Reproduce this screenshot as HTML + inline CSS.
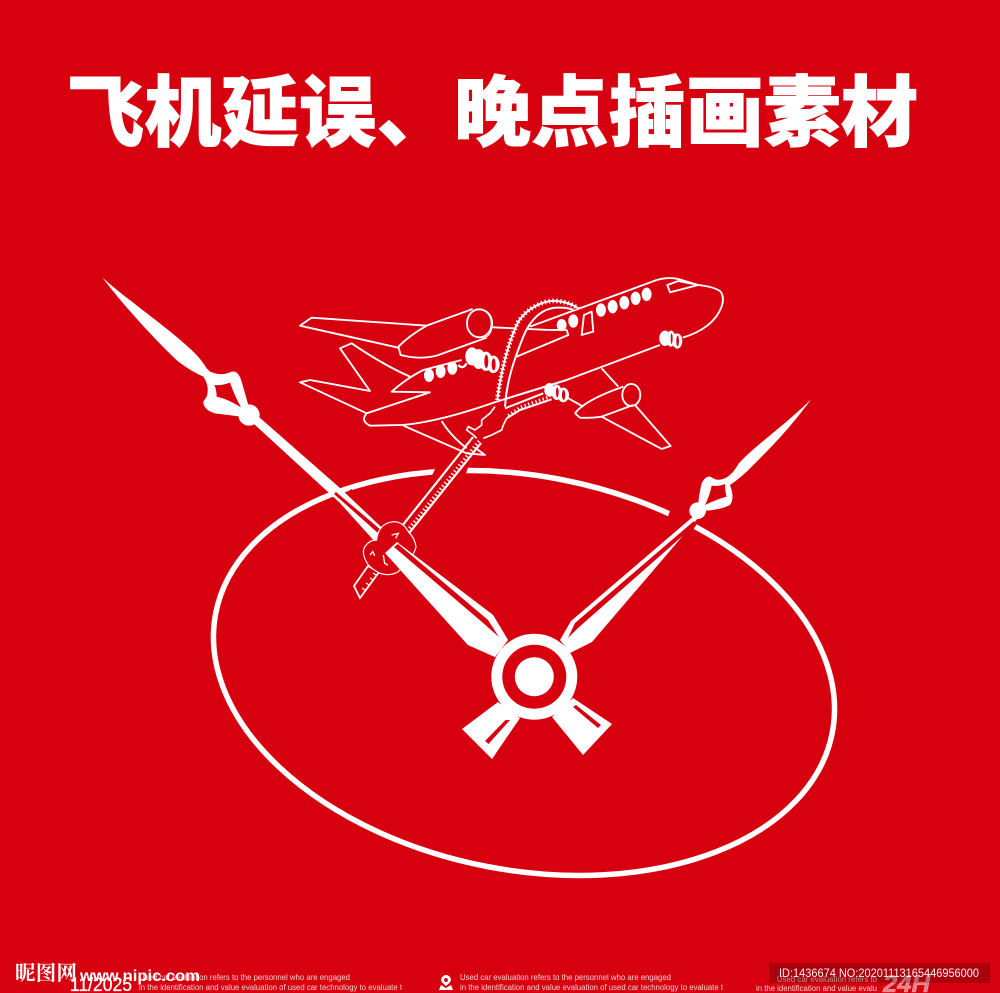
<!DOCTYPE html>
<html lang="zh"><head><meta charset="utf-8"><title>飞机延误、晚点插画素材</title>
<style>html,body{margin:0;padding:0;background:#d7000f}svg{display:block}</style></head>
<body>
<svg xmlns="http://www.w3.org/2000/svg" width="1000" height="993" viewBox="0 0 1000 993">
<rect width="1000" height="993" fill="#d7000f"/>
<text x="67" y="140" font-family="'Liberation Sans','Noto Sans CJK SC',sans-serif" font-weight="900" font-size="77" fill="#fff" stroke="#fff" stroke-width="1" textLength="851" lengthAdjust="spacing">飞机延误、晚点插画素材</text>

<!-- dial ellipse -->
<ellipse cx="524" cy="673" rx="314" ry="197" transform="rotate(11 524 673)" fill="none" stroke="#fff" stroke-width="5.500"/>
<polygon points="322,505 352,489 362,530 335,540" fill="#d7000f"/>
<polygon points="437,465 469,465 460,490 425,490" fill="#d7000f"/>
<polygon points="672,505 704,512 690,535 666,522" fill="#d7000f"/>

<!-- left hand head -->
<g transform="translate(95 270) scale(.3333)" fill="#fff">
<path fill-rule="evenodd" d="M22 22C90 85 230 180 300 250Q320 270 335 295L345 305Q380 320 410 305Q430 300 440 335L460 405L480 435L440 440Q400 435 360 430Q325 420 325 395L335 380Q345 350 325 320Q290 305 250 275C180 210 80 100 22 22ZM358 345Q365 360 365 380Q400 388 438 412Q420 380 405 338Q380 348 358 345Z"/>
<circle cx="462" cy="435" r="32"/>
</g>
<!-- right hand head -->
<g transform="translate(670 390) scale(.3333)" fill="#fff">
<path fill-rule="evenodd" d="M423 28C340 110 250 170 205 222Q190 250 170 262Q145 275 130 265Q110 250 95 280Q85 320 85 345L90 365L105 362Q150 360 180 345Q195 325 180 285Q215 262 250 225C300 175 360 115 423 28ZM125 287Q120 315 105 345Q140 328 170 320Q165 305 165 282Q145 290 125 287Z"/>
<circle cx="83" cy="362" r="25"/>
</g>

<!-- left hand shaft -->
<polygon points="259,417 340,488 397,542 493,615 508,640 495,657 468,645 385,553 340,503 254,424" fill="#fff"/>
<polygon points="336,492 400,546 488,620 499,637 482,622 396,549 334,494" fill="#d7000f"/>
<!-- right hand shaft -->
<polygon points="696,514 571,621 560,640 570,653 592,642 698,518" fill="#fff"/>
<polygon points="694,521 575,623 568,638 578,628 695,525" fill="#d7000f"/>

<!-- straight rope down to hand -->
<polygon points="473,437 398,531 406,537 481,443" fill="#d7000f"/>
<path d="M473 437L398 531M481 443L406 537" stroke="#fff" stroke-width="2.200" fill="none"/>
<path d="M479 441L404 535" stroke="#fff" stroke-width="3.500" stroke-dasharray="1.300 2.500" fill="none"/>

<!-- rope tail -->
<path d="M368 566L354 586L360 598L379 572Z" fill="#d7000f" stroke="#fff" stroke-width="1.800"/>
<path d="M365 590l-3-2M369 585l-3-2M373 580l-3-2M376 575l-3-2" stroke="#fff" stroke-width="1.300"/>

<!-- knot on hand -->
<g transform="translate(340 440) scale(.3333)">
<path d="M110 300Q115 250 160 245Q190 245 205 275Q225 295 228 320Q225 340 205 360L175 395Q150 410 120 400Q100 390 85 375Q65 345 72 325Q85 300 110 300Z" fill="#d7000f" stroke="#fff" stroke-width="3.500"/>
<path d="M90 345l8-10l6 12M130 345l4 25l10 5M155 285l20-5l-8 15" fill="none" stroke="#fff" stroke-width="4"/>
</g>
<polygon points="385,553 397,542 493,615 508,640 495,657 468,645" fill="#fff"/>
<polygon points="398,544 488,620 499,637 482,622 394,547" fill="#d7000f"/>

<!-- clock hub -->
<circle cx="534.300" cy="676.700" r="43" fill="#fff"/>
<circle cx="534.300" cy="676.700" r="32" fill="#d7000f"/>
<circle cx="534.300" cy="676.700" r="19.500" fill="#fff"/>
<!-- tails -->
<polygon points="498,702 462,729 492,759 520,718" fill="#fff"/>
<polygon points="485,741 488.500,744 510,720 505.500,720" fill="#d7000f"/>
<polygon points="573,698 612,724 583,755 552,717" fill="#fff"/>
<polygon points="573,707 576,705 601,725 598,728" fill="#d7000f"/>

<!-- aeroplane -->
<g transform="translate(290 265) scale(.3333)" fill="none" stroke="#fff" stroke-width="5.600" stroke-linejoin="round">
<path d="M410 182L65 158L30 182L325 248"/>
<path d="M410 182L548 132M325 245Q360 210 410 182M325 245L332 270Q390 285 440 272L590 218"/>
<ellipse cx="568" cy="175" rx="37" ry="42"/>
<path d="M555 133Q605 130 608 175Q605 215 580 219" stroke-width="3"/>
<path d="M608 187L775 195"/>
<path d="M720 185L1100 45Q1135 35 1165 42L1225 60Q1270 65 1290 78Q1305 95 1295 125Q1270 190 1178 218"/>
<path d="M1110 240L830 345L620 410Q450 470 340 480L240 482Q215 470 225 452L230 445L420 382L305 380Q350 340 400 315L515 285"/>
<path d="M680 275L835 210L830 195L775 195"/>
<path d="M360 335Q280 300 185 235L150 250L240 378L60 345L30 352L230 445"/>
<path d="M1225 60L1140 82L1132 60L1165 48Z"/>
<path d="M875 210L882 150L905 140L910 200Z"/>
<path d="M935 310L985 365M855 445Q885 405 1000 365M855 445L870 458Q905 460 935 455L1030 420"/>
<ellipse cx="1024" cy="390" rx="27" ry="33"/>
<path d="M935 455L1115 552L1142 543L1035 420M835 400L880 425"/>
<path d="M340 482L530 565L585 570L555 548M455 468Q480 510 530 550"/>
<g fill="#fff" stroke="none">
<ellipse cx="417" cy="331" rx="15" ry="20"/><ellipse cx="452" cy="319" rx="15" ry="20"/><ellipse cx="487" cy="309" rx="15" ry="20"/>
<ellipse cx="815" cy="180" rx="15" ry="18"/><ellipse cx="850" cy="168" rx="15" ry="20"/>
<ellipse cx="933" cy="135" rx="15" ry="20"/><ellipse cx="968" cy="125" rx="15" ry="20"/><ellipse cx="1003" cy="113" rx="15" ry="20"/><ellipse cx="1037" cy="100" rx="15" ry="20"/><ellipse cx="1070" cy="88" rx="15" ry="20"/>
</g>
<path d="M505 300Q518 315 530 295" stroke-width="7"/>
<g fill="#fff" stroke="none">
<ellipse cx="610" cy="298" rx="19" ry="26"/><ellipse cx="588" cy="289" rx="19" ry="29"/><ellipse cx="566" cy="282" rx="20" ry="30"/>
<ellipse cx="820" cy="390" rx="17" ry="22"/><ellipse cx="800" cy="382" rx="15" ry="23"/>
<ellipse cx="1162" cy="228" rx="15" ry="23"/><ellipse cx="1143" cy="221" rx="14" ry="24"/>
</g>
<g fill="#d7000f" stroke="none">
<ellipse cx="611" cy="298" rx="6" ry="18"/><ellipse cx="589" cy="289" rx="6" ry="20"/>
<ellipse cx="821" cy="390" rx="5" ry="15"/><ellipse cx="802" cy="382" rx="4" ry="15"/>
<ellipse cx="1163" cy="228" rx="4" ry="16"/><ellipse cx="1145" cy="221" rx="3" ry="16"/>
</g>
<g fill="#fff" stroke="none">
<ellipse cx="546" cy="274" rx="20" ry="27"/><ellipse cx="778" cy="375" rx="15" ry="21"/><ellipse cx="1125" cy="220" rx="17" ry="23"/>
</g>

<!-- hose up over the fuselage -->
<path d="M622 405C630 340 650 240 685 170C710 130 760 105 800 108C830 110 850 120 865 130L850 135C840 130 820 127 800 128C755 130 720 165 700 215C670 290 650 350 645 425Z" fill="#d7000f" stroke="none"/>
<path d="M622 405C630 340 650 240 685 170C710 130 760 105 800 108C830 110 850 120 865 130" stroke-width="6"/>
<path d="M622 405C630 340 650 240 685 170C710 130 760 105 800 108C830 110 850 120 865 130" stroke-width="14" stroke-dasharray="4 7.500"/>
<path d="M645 425C650 350 670 290 700 215C720 165 755 130 800 128C820 127 840 130 850 135" stroke-width="6"/>
<path d="M830 345L620 410" stroke-width="5.600"/>
</g>

<!-- hose strand B and knot under plane -->
<g transform="translate(440 370) scale(.3333)" fill="none" stroke="#fff" stroke-linejoin="round">
<path d="M190 115L310 70L335 85L240 120L200 145Z" fill="#d7000f" stroke="none"/>
<path d="M195 115L310 70" stroke-width="6"/>
<path d="M200 145L240 120L335 88" stroke-width="6"/>
<path d="M205 137L240 112L330 80" stroke-width="10" stroke-dasharray="4 7.500"/>
<path d="M165 110L150 130L125 150L125 165L105 180L85 170L80 180L100 195L110 205" stroke-width="5"/>
<path d="M200 145L190 165L185 180L155 195L130 205" stroke-width="5"/>
</g>

<!-- footer watermark text -->
<g font-family="'Liberation Sans',sans-serif" fill="#fff" font-size="8">
<text x="139" y="980" fill-opacity=".82" textLength="211" lengthAdjust="spacingAndGlyphs">Used car evaluation refers to the personnel who are engaged</text>
<text x="139" y="990" fill-opacity=".82" textLength="263" lengthAdjust="spacingAndGlyphs">in the identification and value evaluation of used car technology to evaluate t</text>
<text x="460" y="980" fill-opacity=".82" textLength="211" lengthAdjust="spacingAndGlyphs">Used car evaluation refers to the personnel who are engaged</text>
<text x="460" y="990" fill-opacity=".82" textLength="263" lengthAdjust="spacingAndGlyphs">in the identification and value evaluation of used car technology to evaluate t</text>
<text x="777" y="982" fill-opacity=".7" textLength="100" lengthAdjust="spacingAndGlyphs">Used car evaluation refers to</text>
<text x="756" y="991" fill-opacity=".82" textLength="121" lengthAdjust="spacingAndGlyphs">in the identification and value evalu</text>
</g>
<path fill-rule="evenodd" d="M446 975a5 5 0 0 1 5 5q0 2-5 6q-5-4-5-6a5 5 0 0 1 5-5zM446 978a2 2 0 1 0 .01 0zM441 985l-2 5h14l-2-5l-5 3z" fill="#fff"/>
<text x="883" y="992" font-family="'Liberation Sans',sans-serif" font-weight="bold" font-style="italic" font-size="24" fill="#fff" fill-opacity=".5" stroke="#fff" stroke-opacity=".4" stroke-width=".6" textLength="47" lengthAdjust="spacingAndGlyphs">24H</text>
<text x="70" y="991" font-family="'Liberation Sans',sans-serif" font-size="19" fill="#fff" stroke="#fff" stroke-width=".3" textLength="62" lengthAdjust="spacingAndGlyphs">11/2025</text>
<text x="15" y="980" font-family="'Liberation Serif','Noto Serif CJK SC',serif" font-weight="bold" font-size="20.500" fill="#fff" textLength="62">昵图网</text>
<text x="80" y="981" font-family="'Liberation Sans',sans-serif" font-weight="bold" font-size="15.500" fill="#fff" textLength="120" lengthAdjust="spacingAndGlyphs">www.nipic.com</text>
<rect x="769" y="963" width="221" height="20" fill="#000" fill-opacity=".2"/>
<text x="779" y="977" font-family="'Liberation Sans',sans-serif" font-size="12" fill="#fff" fill-opacity=".95" textLength="200" lengthAdjust="spacingAndGlyphs">ID:1436674 NO:20201113165446956000</text>
</svg>
</body></html>
